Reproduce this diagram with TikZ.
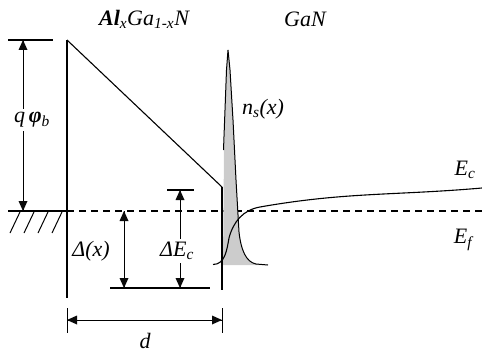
\documentclass[tikz,border=0pt]{standalone}
\usepackage{fontspec}
\setmainfont{Liberation Serif}
\definecolor{ink}{RGB}{10,10,10}
\begin{document}
\begin{tikzpicture}[x=1pt,y=-1pt,
  lab/.style={font=\fontsize{22}{24}\selectfont\itshape, inner sep=1pt},
  gap/.style={lab, fill=white, inner sep=3pt},
  dimline/.style={line width=0.9pt},
  ahead/.style={fill=ink},
  bar/.style={line width=2.2pt},
  thin/.style={line width=1.1pt},
  fermi/.style={line width=1.6pt, dash pattern=on 7pt off 5pt}]
\useasboundingbox (0,0) rectangle (482,353);
% coordinates
\coordinate (mtop) at (67,40);
\coordinate (mbot) at (67,298);
\coordinate (itop) at (222,187);
\coordinate (ibot) at (222,290);
\coordinate (fl) at (8,211);
\coordinate (fm) at (67,211);
\coordinate (fr) at (482,211);
% metal/barrier lines
\draw[thin] (mtop) -- (mbot);
\draw[thin] (mtop) -- (itop);
% Fermi level
\draw[line width=1.6pt] (fl) -- (fm);
\draw[fermi] (fm) -- (fr);
\foreach \h in {10,24,38,52}
  \draw[line width=1pt] (\h,233) -- (\h+10,212);
% spike (2DEG)
\fill[gray!40] (223,265) -- (224,150) -- (226.5,70) -- (228,50) -- (230,70) -- (233,120)
  -- (236,180) -- (239,232) .. controls (241,250) and (246,262) .. (256,264) -- (268,265) -- cycle;
\draw[line width=1pt] (223.5,150) -- (226.5,70) -- (228,50) -- (230,70) -- (233,120)
  -- (236,180) -- (239,232) .. controls (241,250) and (246,262) .. (256,264) -- (268,265);
% interface
\draw[line width=2.6pt] (itop) -- (ibot);
% Ec in GaN
\coordinate (ec0) at (213,264.5);
\coordinate (ec1) at (229,238);
\coordinate (ec2) at (260,207);
\coordinate (ec3) at (482,188);
\draw[line width=1.1pt] (ec0) to[out=0,in=-100] (ec1) to[out=75,in=190] (ec2) to[out=10,in=185] (ec3);
% q phi_b
\coordinate (pt) at (23,40);
\coordinate (pb) at (23,211);
\draw[bar] (8,40) -- (53,40);
\draw[dimline] (pt) -- (pb);
\fill[ahead] (pt) -- ++(-4.5,10) -- ++(9,0) -- cycle;
\fill[ahead] (pb) -- ++(-4.5,-10) -- ++(9,0) -- cycle;
\node[gap] (qphi) at (32,120) {q\,\textbf{φ}\textsubscript{b}};
% Delta(x) and Delta Ec
\coordinate (dbl) at (110,288);
\coordinate (dbr) at (210,288);
\draw[bar] (dbl) -- (dbr);
\coordinate (ect) at (180,190);
\coordinate (ecb) at (180,288);
\draw[bar] (167,190) -- (194,190);
\coordinate (dxt) at (124,211);
\coordinate (dxb) at (124,288);
\draw[dimline] (dxt) -- (dxb);
\fill[ahead] (dxt) -- ++(-4.5,10) -- ++(9,0) -- cycle;
\fill[ahead] (dxb) -- ++(-4.5,-10) -- ++(9,0) -- cycle;
\draw[dimline] (ect) -- (ecb);
\fill[ahead] (ect) -- ++(-4.5,10) -- ++(9,0) -- cycle;
\fill[ahead] (ecb) -- ++(-4.5,-10) -- ++(9,0) -- cycle;
\node[gap] (dec) at (177,251) {ΔE\textsubscript{c}};
\node[lab] (dx) at (91,251) {Δ(x)};
% d
\coordinate (dl) at (67,320);
\coordinate (dr) at (222,320);
\draw[line width=1pt] (67,308) -- (67,333);
\draw[line width=1pt] (222,308) -- (222,333);
\draw[dimline] (dl) -- (dr);
\fill[ahead] (dl) -- ++(10,-4.5) -- ++(0,9) -- cycle;
\fill[ahead] (dr) -- ++(-10,-4.5) -- ++(0,9) -- cycle;
\node[lab] (d) at (145,341) {d};
% labels
\node[lab] (algan) at (144,19) {\textbf{Al}\textsubscript{x}Ga\textsubscript{1-x}N};
\node[lab] (gan) at (305,19) {GaN};
\node[lab] (ns) at (263,109) {n\textsubscript{s}(x)};
\node[lab] (ec) at (465,170) {E\textsubscript{c}};
\node[lab] (ef) at (463,240) {E\textsubscript{f}};
\end{tikzpicture}
\end{document}
